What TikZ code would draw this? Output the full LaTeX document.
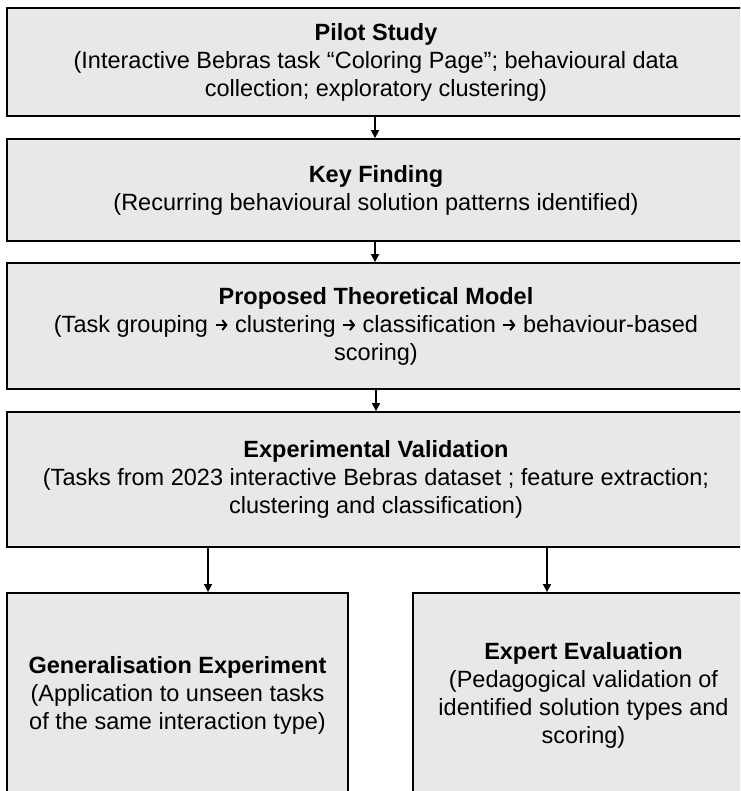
\documentclass[tikz,border=0pt]{standalone}
\usepackage{fontspec}
\setmainfont{Liberation Sans}
\usetikzlibrary{arrows.meta}

\definecolor{boxfill}{HTML}{E8E8E8}

% small inline arrow used inside the model description
\newcommand\stagearrow{\tikz[x=1pt,y=1pt,baseline=0pt]{%
  \path (0,0) rectangle (12,1);
  \draw[line width=2pt,-{Straight Barb[length=4pt,width=10pt]}] (0,7) -- (12,7);}}

\begin{document}
\begin{tikzpicture}[x=1pt,y=-1pt,
  stagebox/.style={draw=black, line width=1.8pt, fill=boxfill, align=center,
    inner sep=0pt, font=\fontsize{23.5}{28}\selectfont},
  flow/.style={line width=1.6pt, -{Triangle[length=8pt,width=8pt]}}]
  \useasboundingbox (0,0) rectangle (740,791);
  \clip (0,0) rectangle (740,791);

  % main column of stages
  \node[stagebox, minimum width=738pt, minimum height=108pt] (pilot) at (376,62)
    {\textbf{Pilot Study}\\(Interactive Bebras task “Coloring Page”; behavioural data\\collection; exploratory clustering)};
  \node[stagebox, minimum width=738pt, minimum height=102pt] (key) at (376,190)
    {\textbf{Key Finding}\\(Recurring behavioural solution patterns identified)};
  \node[stagebox, minimum width=738pt, minimum height=126pt] (model) at (376,326)
    {\textbf{Proposed Theoretical Model}\\(Task grouping \stagearrow{} clustering \stagearrow{} classification \stagearrow{} behaviour-based\\scoring)};
  \node[stagebox, minimum width=738pt, minimum height=135pt] (valid) at (376,479.5)
    {\textbf{Experimental Validation}\\(Tasks from 2023 interactive Bebras dataset ; feature extraction;\\clustering and classification)};

  % two follow-up studies
  \node[stagebox, minimum width=341pt, minimum height=204pt] (gen) at (177.5,695)
    {\textbf{Generalisation Experiment}\\(Application to unseen tasks\\of the same interaction type)};
  \node[stagebox, minimum width=341pt, minimum height=204pt] (expert) at (583.5,695)
    {\textbf{Expert Evaluation}\\(Pedagogical validation of\\identified solution types and\\scoring)};

  % connectors
  \draw[flow] (pilot.south -| 375,0) -- (key.north -| 375,0);
  \draw[flow] (key.south -| 375,0) -- (model.north -| 375,0);
  \draw[flow] (model.south -| 376,0) -- (valid.north -| 376,0);
  \draw[flow] (valid.south -| 208,0) -- (gen.north -| 208,0);
  \draw[flow] (valid.south -| 547,0) -- (expert.north -| 547,0);
\end{tikzpicture}
\end{document}
